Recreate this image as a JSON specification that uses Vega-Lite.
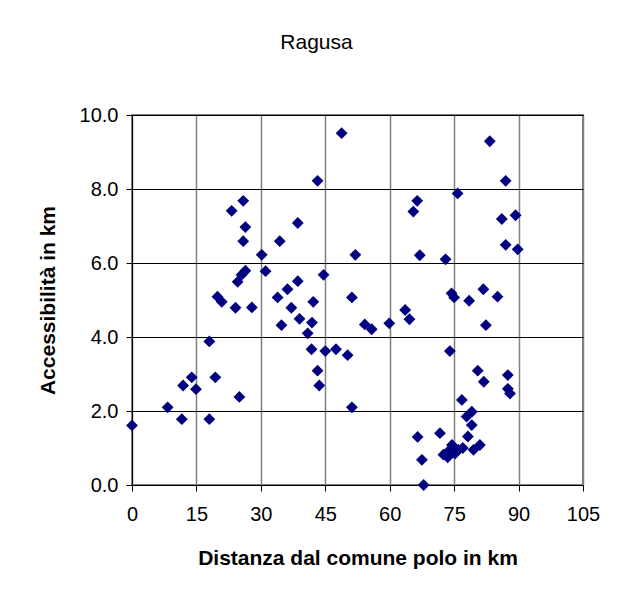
{
  "$schema": "https://vega.github.io/schema/vega-lite/v6.json",
  "autosize": {"type": "none"},
  "padding": {"left": 132, "top": 115, "right": 36, "bottom": 116},
  "width": 451,
  "height": 370,
  "background": "white",
  "title": {
    "text": "Ragusa",
    "font": "Liberation Sans",
    "fontSize": 21,
    "fontWeight": "normal",
    "color": "black",
    "anchor": "middle",
    "frame": "group",
    "dx": -41,
    "baseline": "alphabetic",
    "offset": 35
  },
  "data": {
    "values": [
      {"d": 0, "a": 1.61}, {"d": 8.3, "a": 2.10}, {"d": 11.6, "a": 1.78}, {"d": 11.9, "a": 2.69},
      {"d": 13.9, "a": 2.91}, {"d": 14.9, "a": 2.59}, {"d": 18.0, "a": 3.88}, {"d": 18.0, "a": 1.78},
      {"d": 19.4, "a": 2.91}, {"d": 19.9, "a": 5.09}, {"d": 20.9, "a": 4.95}, {"d": 23.2, "a": 7.41},
      {"d": 24.1, "a": 4.79}, {"d": 24.6, "a": 5.49}, {"d": 25.0, "a": 2.38}, {"d": 25.5, "a": 5.68},
      {"d": 25.9, "a": 7.68}, {"d": 25.9, "a": 6.59}, {"d": 26.4, "a": 6.97}, {"d": 26.4, "a": 5.79},
      {"d": 27.9, "a": 4.80}, {"d": 30.2, "a": 6.22}, {"d": 31.1, "a": 5.78}, {"d": 33.9, "a": 5.07},
      {"d": 34.4, "a": 6.59}, {"d": 34.8, "a": 4.32}, {"d": 36.2, "a": 5.29}, {"d": 37.1, "a": 4.79},
      {"d": 38.6, "a": 7.08}, {"d": 38.6, "a": 5.51}, {"d": 39.0, "a": 4.49}, {"d": 40.9, "a": 4.10},
      {"d": 41.8, "a": 3.67}, {"d": 41.9, "a": 4.39}, {"d": 42.2, "a": 4.95}, {"d": 43.2, "a": 8.22},
      {"d": 43.2, "a": 3.09}, {"d": 43.6, "a": 2.69}, {"d": 44.6, "a": 5.68}, {"d": 45.0, "a": 3.62},
      {"d": 47.5, "a": 3.67}, {"d": 48.8, "a": 9.51}, {"d": 50.2, "a": 3.51}, {"d": 51.2, "a": 5.07},
      {"d": 51.2, "a": 2.10}, {"d": 52.0, "a": 6.22}, {"d": 54.2, "a": 4.34}, {"d": 55.8, "a": 4.21},
      {"d": 59.9, "a": 4.37}, {"d": 63.6, "a": 4.73}, {"d": 64.6, "a": 4.48}, {"d": 65.5, "a": 7.39},
      {"d": 66.4, "a": 7.68}, {"d": 66.5, "a": 1.30}, {"d": 67.0, "a": 6.21}, {"d": 67.5, "a": 0.68},
      {"d": 67.9, "a": 0.0}, {"d": 71.7, "a": 1.40}, {"d": 73.0, "a": 6.10}, {"d": 74.0, "a": 3.62},
      {"d": 74.4, "a": 5.18}, {"d": 75.0, "a": 5.07}, {"d": 75.8, "a": 7.88}, {"d": 76.8, "a": 2.30},
      {"d": 78.5, "a": 4.98}, {"d": 79.1, "a": 1.98}, {"d": 77.9, "a": 1.85}, {"d": 79.1, "a": 1.62},
      {"d": 78.2, "a": 1.31}, {"d": 80.5, "a": 3.09}, {"d": 81.8, "a": 5.29}, {"d": 81.9, "a": 2.79},
      {"d": 82.4, "a": 4.32}, {"d": 83.3, "a": 9.29}, {"d": 85.1, "a": 5.09}, {"d": 86.1, "a": 7.19},
      {"d": 87.0, "a": 8.22}, {"d": 87.0, "a": 6.49}, {"d": 87.5, "a": 2.97}, {"d": 87.5, "a": 2.60},
      {"d": 88.0, "a": 2.47}, {"d": 89.3, "a": 7.29}, {"d": 89.8, "a": 6.37},
      {"d": 72.5, "a": 0.82}, {"d": 73.5, "a": 0.75}, {"d": 74.0, "a": 0.95}, {"d": 74.5, "a": 1.08},
      {"d": 75.2, "a": 0.85}, {"d": 76.0, "a": 0.95}, {"d": 77.0, "a": 1.00}, {"d": 79.5, "a": 0.95},
      {"d": 81.0, "a": 1.08}
    ]
  },
  "mark": {"type": "point", "shape": "diamond", "filled": true, "color": "#000080", "opacity": 1, "size": 140, "strokeWidth": 0},
  "encoding": {
    "x": {
      "field": "d", "type": "quantitative",
      "scale": {"domain": [0, 105], "nice": false, "zero": false},
      "axis": {
        "values": [0, 15, 30, 45, 60, 75, 90, 105],
        "title": "Distanza dal comune polo in km",
        "gridColor": "#808080", "gridWidth": 1.5, "gridOpacity": 1,
        "labelPadding": 13, "tickSize": 6, "titlePadding": 23
      }
    },
    "y": {
      "field": "a", "type": "quantitative",
      "scale": {"domain": [0, 10], "nice": false, "zero": false},
      "axis": {
        "values": [0, 2, 4, 6, 8, 10],
        "format": ".1f",
        "title": "Accessibilità in km",
        "gridColor": "black", "gridWidth": 1, "gridOpacity": 1,
        "labelPadding": 8, "tickSize": 6, "titlePadding": 21
      }
    }
  },
  "config": {
    "view": {"stroke": "#808080", "strokeWidth": 2},
    "axis": {
      "labelFont": "Liberation Sans", "labelFontSize": 20, "labelColor": "black",
      "titleFont": "Liberation Sans", "titleFontSize": 21, "titleFontWeight": "bold", "titleColor": "black",
      "domainColor": "black", "domainWidth": 1, "tickColor": "black", "tickWidth": 1,
      "grid": true, "labelFlush": false, "labelOverlap": false
    }
  }
}
